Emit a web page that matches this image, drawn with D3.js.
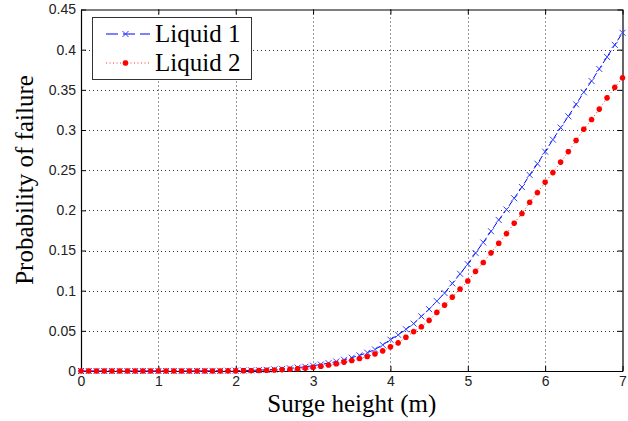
<!DOCTYPE html>
<html>
<head>
<meta charset="utf-8">
<script src="https://cdn.jsdelivr.net/npm/d3@7"></script>
<style>
  html, body { margin: 0; padding: 0; background: #fff; }
  svg { display: block; }
</style>
</head>
<body>
<svg id="chart" width="628" height="421"></svg>
<script>
// ---- data ----
const surgeHeights = d3.range(71).map(i => +(i * 0.1).toFixed(1)); // 0.0 .. 7.0 step 0.1 (x positions)
const liquid1 = [
  0, 0, 0, 0, 0, 0, 0, 0, 0, 0,
  0, 0, 0, 0, 0, 0, 0.0001, 0.0001, 0.0002, 0.0003,
  0.0004, 0.0006, 0.0008, 0.0011, 0.0015, 0.0020, 0.0026, 0.0033, 0.0042, 0.0053,
  0.0066, 0.0081, 0.0098, 0.0118, 0.0140, 0.0166, 0.0195, 0.0228, 0.0268, 0.0325,
  0.039, 0.045, 0.052, 0.059, 0.068, 0.077, 0.087, 0.097, 0.109, 0.121,
  0.133, 0.147, 0.160, 0.174, 0.188, 0.201, 0.215, 0.229, 0.244, 0.258,
  0.273, 0.288, 0.303, 0.317, 0.332, 0.347, 0.361, 0.376, 0.391, 0.406,
  0.421
];
const liquid2 = [
  0, 0, 0, 0, 0, 0, 0, 0, 0, 0,
  0, 0, 0, 0, 0, 0, 0, 0, 0, 0.0001,
  0.0002, 0.0003, 0.0004, 0.0006, 0.0009, 0.0012, 0.0016, 0.0021, 0.0028, 0.0036,
  0.0046, 0.0059, 0.0074, 0.0090, 0.0110, 0.0130, 0.0155, 0.0180, 0.0212, 0.0250,
  0.030, 0.035, 0.042, 0.049, 0.055, 0.063, 0.073, 0.082, 0.092, 0.102,
  0.112, 0.124, 0.135, 0.147, 0.159, 0.171, 0.184, 0.196, 0.210, 0.222,
  0.235, 0.247, 0.260, 0.273, 0.287, 0.301, 0.313, 0.326, 0.340, 0.353,
  0.365
];
const xTicks = [0, 1, 2, 3, 4, 5, 6, 7];
const yTicks = [0, 0.05, 0.1, 0.15, 0.2, 0.25, 0.3, 0.35, 0.4, 0.45];
const yTickLabels = ["0", "0.05", "0.1", "0.15", "0.2", "0.25", "0.3", "0.35", "0.4", "0.45"];
const seriesNames = ["Liquid 1", "Liquid 2"];
const xLabel = "Surge height (m)";
const yLabel = "Probability of failure";

// ---- layout ----
const PL = 81, PR = 622.5, PT = 9.5, PB = 371;
const svg = d3.select("#chart");
const x = d3.scaleLinear().domain([0, 7]).range([PL, PR]);
const y = d3.scaleLinear().domain([0, 0.45]).range([PB, PT]);

// grid
const grid = svg.append("g");
grid.selectAll("line.vg").data(xTicks.slice(1, -1)).join("line")
  .attr("x1", d => Math.round(x(d)) + 0.5).attr("x2", d => Math.round(x(d)) + 0.5)
  .attr("y1", PT).attr("y2", PB)
  .attr("stroke", "#333").attr("stroke-width", 1).attr("stroke-dasharray", "1,3");
grid.selectAll("line.hg").data(yTicks.slice(1, -1)).join("line")
  .attr("x1", PL).attr("x2", PR)
  .attr("y1", d => Math.round(y(d)) + 0.5).attr("y2", d => Math.round(y(d)) + 0.5)
  .attr("stroke", "#333").attr("stroke-width", 1).attr("stroke-dasharray", "1,3");

// axes (MATLAB style: ticks inside, on all sides)
const fontTick = "'Liberation Sans', Arial, sans-serif";
const axB = svg.append("g").attr("transform", `translate(0,${PB})`)
  .call(d3.axisBottom(x).tickValues(xTicks).tickSizeInner(-5).tickSizeOuter(0).tickPadding(5).tickFormat(d3.format("d")));
const axT = svg.append("g").attr("transform", `translate(0,${PT})`)
  .call(d3.axisTop(x).tickValues(xTicks).tickSizeInner(-5).tickSizeOuter(0).tickFormat(""));
const axL = svg.append("g").attr("transform", `translate(${PL},0)`)
  .call(d3.axisLeft(y).tickValues(yTicks).tickSizeInner(-5).tickSizeOuter(0).tickPadding(5)
    .tickFormat((d, i) => yTickLabels[i]));
const axR = svg.append("g").attr("transform", `translate(${PR},0)`)
  .call(d3.axisRight(y).tickValues(yTicks).tickSizeInner(-5).tickSizeOuter(0).tickFormat(""));
[axB, axT, axL, axR].forEach(g => {
  g.select(".domain").attr("stroke", "#000").attr("stroke-width", 1.2);
  g.selectAll(".tick line").attr("stroke", "#000");
  g.selectAll("text").attr("font-family", fontTick).attr("font-size", 14).attr("fill", "#222");
});

// series
const lineGen = d3.line().x((d, i) => x(surgeHeights[i])).y(d => y(d));
function drawX(g, cx, cy, s, color) {
  g.append("path").attr("d", `M${cx - s},${cy - s}L${cx + s},${cy + s}M${cx - s},${cy + s}L${cx + s},${cy - s}`)
    .attr("stroke", color).attr("stroke-width", 1).attr("fill", "none");
}
function drawStar(g, cx, cy, s, color) {
  const d = s * 0.72;
  g.append("path").attr("d", `M${cx - s},${cy}L${cx + s},${cy}M${cx},${cy - s}L${cx},${cy + s}M${cx - d},${cy - d}L${cx + d},${cy + d}M${cx - d},${cy + d}L${cx + d},${cy - d}`)
    .attr("stroke", color).attr("stroke-width", 1.8).attr("fill", "none");
}

const s1 = svg.append("g");
s1.append("path").datum(liquid1).attr("d", lineGen).attr("fill", "none")
  .attr("stroke", "#0000ff").attr("stroke-width", 1).attr("stroke-dasharray", "6,3");
liquid1.forEach((v, i) => drawX(s1, x(surgeHeights[i]), y(v), 3, "#3040ff"));

const s2 = svg.append("g");
s2.append("path").datum(liquid2).attr("d", lineGen).attr("fill", "none")
  .attr("stroke", "#ff3030").attr("stroke-width", 1).attr("stroke-dasharray", "1,2.5");
liquid2.forEach((v, i) => drawStar(s2, x(surgeHeights[i]), y(v), 2.8, "#ff0000"));

// legend
const lg = svg.append("g");
lg.append("rect").attr("x", 92.5).attr("y", 17.5).attr("width", 159).attr("height", 62)
  .attr("fill", "#fff").attr("stroke", "#333").attr("stroke-width", 1);
const fontSerif = "'Liberation Serif', 'Times New Roman', serif";
const legY = [34, 63];
lg.append("line").attr("x1", 106).attr("x2", 150).attr("y1", legY[0]).attr("y2", legY[0])
  .attr("stroke", "#0000ff").attr("stroke-width", 1).attr("stroke-dasharray", "12,5");
drawX(lg, 125.5, legY[0], 3, "#3040ff");
lg.append("line").attr("x1", 106).attr("x2", 150).attr("y1", legY[1]).attr("y2", legY[1])
  .attr("stroke", "#ff3030").attr("stroke-width", 1).attr("stroke-dasharray", "1,2.5");
drawStar(lg, 125.5, legY[1], 2.8, "#ff0000");
seriesNames.forEach((n, i) => {
  lg.append("text").attr("x", 155).attr("y", legY[i] + 8).text(n)
    .attr("font-family", fontSerif).attr("font-size", 25).attr("fill", "#000");
});

// axis labels
svg.append("text").attr("x", (PL + PR) / 2).attr("y", 412).attr("text-anchor", "middle")
  .attr("font-family", fontSerif).attr("font-size", 25).attr("fill", "#000").text(xLabel);
svg.append("text").attr("transform", `translate(33,180) rotate(-90)`).attr("text-anchor", "middle")
  .attr("font-family", fontSerif).attr("font-size", 25).attr("fill", "#000").text(yLabel);
</script>
</body>
</html>
